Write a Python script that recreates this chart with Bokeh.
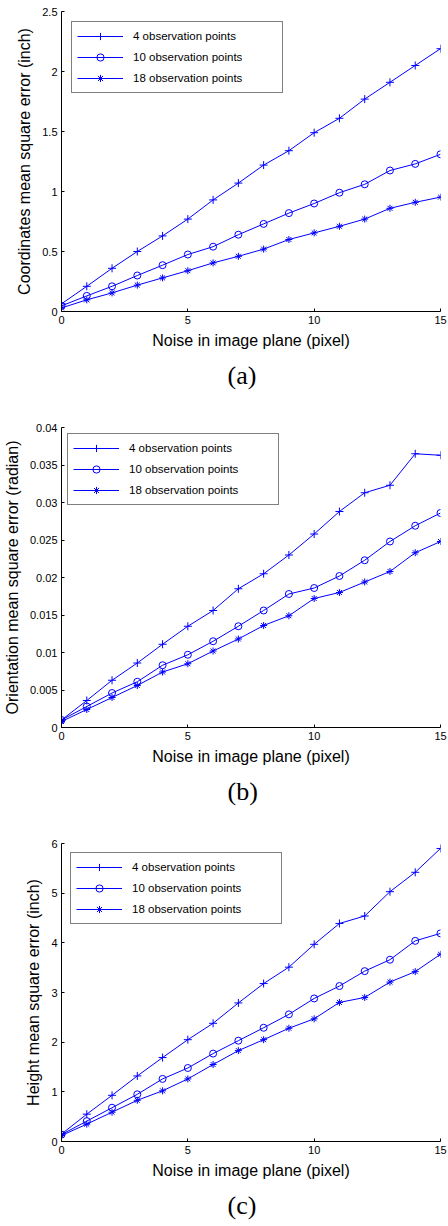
from bokeh.plotting import figure
from bokeh.models import Legend, LegendItem, Title, Range1d, FixedTicker
from bokeh.layouts import column
from bokeh.embed import file_html
from bokeh.resources import INLINE

# ---------------- data ----------------
noise = list(range(16))
series_names = ["4 observation points", "10 observation points", "18 observation points"]

coord_4 = [0.064, 0.21, 0.36, 0.50, 0.63, 0.77, 0.93, 1.07, 1.22, 1.34, 1.49, 1.61, 1.77, 1.91, 2.05, 2.19]
coord_10 = [0.047, 0.13, 0.21, 0.30, 0.386, 0.475, 0.54, 0.64, 0.73, 0.82, 0.90, 0.99, 1.06, 1.175, 1.23, 1.31]
coord_18 = [0.03, 0.097, 0.155, 0.22, 0.28, 0.34, 0.405, 0.46, 0.52, 0.60, 0.655, 0.71, 0.77, 0.86, 0.91, 0.953]

orient_4 = [0.0010, 0.0036, 0.0063, 0.0086, 0.0111, 0.0135, 0.0156, 0.0185, 0.0205, 0.0230, 0.0258, 0.0288, 0.0313, 0.0323, 0.0365, 0.0363]
orient_10 = [0.0010, 0.0028, 0.0046, 0.0061, 0.0083, 0.0097, 0.0115, 0.0135, 0.0156, 0.0178, 0.0186, 0.0202, 0.0223, 0.0248, 0.0269, 0.0286]
orient_18 = [0.0008, 0.0024, 0.0040, 0.0056, 0.0074, 0.0085, 0.0102, 0.0118, 0.0136, 0.0149, 0.0172, 0.0180, 0.0194, 0.0208, 0.0233, 0.0248]

height_4 = [0.15, 0.55, 0.93, 1.32, 1.69, 2.05, 2.38, 2.79, 3.18, 3.51, 3.97, 4.39, 4.54, 5.03, 5.42, 5.90]
height_10 = [0.14, 0.41, 0.68, 0.95, 1.26, 1.48, 1.77, 2.03, 2.29, 2.56, 2.88, 3.13, 3.43, 3.66, 4.04, 4.19]
height_18 = [0.12, 0.35, 0.59, 0.83, 1.02, 1.26, 1.55, 1.83, 2.05, 2.28, 2.47, 2.80, 2.90, 3.21, 3.42, 3.77]

x_ticks = [0, 5, 10, 15]
x_tick_labels = ["0", "5", "10", "15"]

coord_ticks = [0, 0.5, 1, 1.5, 2, 2.5]
coord_tick_labels = ["0", "0.5", "1", "1.5", "2", "2.5"]
orient_ticks = [0, 0.005, 0.01, 0.015, 0.02, 0.025, 0.03, 0.035, 0.04]
orient_tick_labels = ["0", "0.005", "0.01", "0.015", "0.02", "0.025", "0.03", "0.035", "0.04"]
height_ticks = [0, 1, 2, 3, 4, 5, 6]
height_tick_labels = ["0", "1", "2", "3", "4", "5", "6"]

x_label = "Noise in image plane (pixel)"
y_labels = ["Coordinates mean square error (inch)",
            "Orientation mean square error (radian)",
            "Height mean square error (inch)"]
captions = ["(a)", "(b)", "(c)"]

# ---------------- styling ----------------
BLUE = "#0000ff"
SANS = "Liberation Sans"
SERIF = "Liberation Serif"
markers = ["cross", "circle", "asterisk"]
marker_sizes = [8, 7, 7]


def make_panel(series, yticks, ylabels, ymax, ylabel, caption, height, bottom, legend_margin):
    p = figure(width=448, height=height, output_backend="svg", toolbar_location=None,
               x_range=Range1d(0, 15), y_range=Range1d(0, ymax),
               min_border_left=58, min_border_right=8, min_border_top=11,
               min_border_bottom=bottom)
    p.outline_line_color = None
    p.grid.visible = False
    p.background_fill_color = "white"
    p.border_fill_color = "white"

    items = []
    for vals, name, mk, sz in zip(series, series_names, markers, marker_sizes):
        ln = p.line(noise, vals, line_color=BLUE, line_width=1)
        sc = p.scatter(noise, vals, marker=mk, size=sz, line_color=BLUE,
                       fill_color=None, line_width=1)
        items.append(LegendItem(label=name, renderers=[ln, sc]))

    for ax in (p.xaxis[0], p.yaxis[0]):
        ax.major_tick_in = 3
        ax.major_tick_out = 0
        ax.minor_tick_line_color = None
        ax.axis_line_color = "black"
        ax.major_tick_line_color = "black"
        ax.major_label_text_font = SANS
        ax.major_label_text_font_size = "11px"
        ax.major_label_text_color = "black"
        ax.axis_label_text_font = SANS
        ax.axis_label_text_font_size = "16px"
        ax.axis_label_text_font_style = "normal"
        ax.axis_label_text_color = "black"
        ax.major_label_standoff = 4
        ax.axis_label_standoff = 5

    p.xaxis.ticker = FixedTicker(ticks=x_ticks)
    p.xaxis.major_label_overrides = {t: l for t, l in zip(x_ticks, x_tick_labels)}
    p.xaxis.axis_label = x_label
    p.yaxis.ticker = FixedTicker(ticks=yticks)
    p.yaxis.major_label_overrides = {t: l for t, l in zip(yticks, ylabels)}
    p.yaxis.axis_label = ylabel
    p.yaxis.axis_label_standoff = 6

    legend = Legend(items=items, location="top_left", margin=legend_margin,
                    padding=5, spacing=3, glyph_width=46, glyph_height=18,
                    label_height=18, label_width=144, label_standoff=10,
                    label_text_font=SANS, label_text_font_size="11.5px",
                    label_text_color="black",
                    border_line_color="black", border_line_width=1.5,
                    background_fill_color="white", background_fill_alpha=1)
    p.add_layout(legend)

    t = Title(text=caption, align="left", offset=166, text_font=SERIF,
              text_font_size="26px", text_font_style="normal",
              text_color="black", standoff=14)
    p.add_layout(t, "below")
    return p


pa = make_panel([coord_4, coord_10, coord_18], coord_ticks, coord_tick_labels, 2.5,
                y_labels[0], captions[0], 416, 105, 10)
pb = make_panel([orient_4, orient_10, orient_18], orient_ticks, orient_tick_labels, 0.04,
                y_labels[1], captions[1], 416, 105, 6)
pc = make_panel([height_4, height_10, height_18], height_ticks, height_tick_labels, 6,
                y_labels[2], captions[2], 394, 83, 9)

layout = column(pa, pb, pc, spacing=0)

with open("out.html", "w") as f:
    f.write(file_html(layout, INLINE))
